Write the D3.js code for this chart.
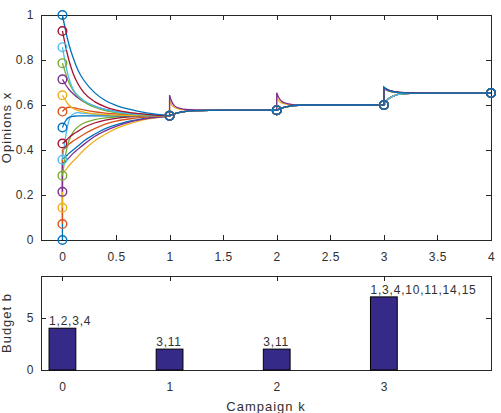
<!doctype html>
<html>
<head>
<meta charset="utf-8">
<script src="https://d3js.org/d3.v7.min.js"></script>
<style>
  body{margin:0;background:#fff;}
  svg{display:block;font-family:'Liberation Sans',Arial,Helvetica,sans-serif;}
  .axis path.domain{display:none;}
  .axis line{stroke:#262626;shape-rendering:crispEdges;}
  .axis text{fill:#303030;font-size:12px;letter-spacing:0.5px;}
  rect.box{fill:none;stroke:#262626;shape-rendering:crispEdges;}
  text.label{fill:#303030;font-size:13px;letter-spacing:1px;}
  path.traj{fill:none;stroke-width:1.3px;}
  circle.mark{fill:none;stroke-width:1.4px;}
  rect.bar{fill:#352a87;stroke:#000;stroke-width:1px;}
  text.barlabel{fill:#303030;font-size:12px;letter-spacing:0.8px;}
</style>
</head>
<body>
<svg id="chart" width="501" height="413"></svg>
<script>
var agentIds = [1,2,3,4,5,6,7,8,9,10,11,12,13,14,15];
var initialOpinion = [0, 0.071, 0.143, 0.214, 0.286, 0.357, 0.429, 0.5, 0.571, 0.643, 0.714, 0.786, 0.857, 0.929, 1];
var colors = ['#0072BD','#D95319','#EDB120','#7E2F8E','#77AC30','#4DBEEE','#A2142F'];

// first interval (campaign 0 -> 1), opinions after the push, sampled at these times
var sampleT0 = [0, 0.03, 0.06, 0.1, 0.15, 0.2, 0.3, 0.4, 0.5, 0.65, 0.8, 1];
var path0 = [
  [0.36, 0.37, 0.385, 0.40, 0.42, 0.44, 0.47, 0.495, 0.512, 0.53, 0.543, 0.552],
  [0.40, 0.41, 0.425, 0.44, 0.455, 0.47, 0.495, 0.515, 0.528, 0.54, 0.547, 0.552],
  [0.30, 0.31, 0.33, 0.35, 0.375, 0.40, 0.44, 0.47, 0.495, 0.52, 0.538, 0.551],
  [0.34, 0.35, 0.365, 0.385, 0.405, 0.425, 0.46, 0.485, 0.505, 0.527, 0.541, 0.552],
  [0.286, 0.38, 0.44, 0.48, 0.505, 0.52, 0.535, 0.543, 0.547, 0.55, 0.551, 0.552],
  [0.357, 0.46, 0.53, 0.56, 0.566, 0.563, 0.559, 0.556, 0.554, 0.553, 0.552, 0.552],
  [0.429, 0.44, 0.455, 0.47, 0.485, 0.50, 0.52, 0.533, 0.541, 0.548, 0.551, 0.552],
  [0.5, 0.53, 0.545, 0.55, 0.552, 0.552, 0.552, 0.552, 0.552, 0.552, 0.552, 0.552],
  [0.571, 0.585, 0.59, 0.588, 0.583, 0.578, 0.57, 0.564, 0.56, 0.556, 0.554, 0.552],
  [0.643, 0.62, 0.60, 0.585, 0.575, 0.568, 0.561, 0.557, 0.555, 0.553, 0.552, 0.552],
  [0.714, 0.69, 0.67, 0.65, 0.63, 0.615, 0.595, 0.58, 0.571, 0.562, 0.557, 0.552],
  [0.786, 0.74, 0.70, 0.665, 0.635, 0.615, 0.59, 0.575, 0.566, 0.559, 0.555, 0.552],
  [0.857, 0.78, 0.72, 0.67, 0.64, 0.62, 0.595, 0.58, 0.57, 0.561, 0.556, 0.552],
  [0.929, 0.86, 0.80, 0.74, 0.69, 0.655, 0.615, 0.592, 0.577, 0.565, 0.558, 0.552],
  [1, 0.93, 0.87, 0.81, 0.75, 0.71, 0.655, 0.62, 0.598, 0.578, 0.564, 0.553]
];

// later intervals: offsets from campaign time, agents that are not pushed follow "follow"
var sampleTk = [0, 0.02, 0.05, 0.1, 0.15, 0.25, 0.5, 1];
var follow1 = [0.552, 0.556, 0.562, 0.568, 0.572, 0.575, 0.577, 0.577];
var targets1 = [3, 11];
var pushed1 = [
  [0.62, 0.60, 0.588, 0.581, 0.578, 0.577, 0.577, 0.577],
  [0.644, 0.615, 0.595, 0.585, 0.58, 0.578, 0.577, 0.577]
];
var follow2 = [0.577, 0.581, 0.587, 0.593, 0.597, 0.6, 0.6, 0.6];
var targets2 = [3, 11];
var pushed2 = [
  [0.635, 0.618, 0.608, 0.603, 0.601, 0.6, 0.6, 0.6],
  [0.655, 0.632, 0.615, 0.606, 0.602, 0.6, 0.6, 0.6]
];
var follow3 = [0.6, 0.615, 0.63, 0.642, 0.648, 0.652, 0.653, 0.653];
var targets3 = [1, 3, 4, 10, 11, 14, 15];
var pushed3 = [
  [0.675, 0.668, 0.662, 0.657, 0.655, 0.653, 0.653, 0.653],
  [0.675, 0.668, 0.662, 0.657, 0.655, 0.653, 0.653, 0.653],
  [0.675, 0.668, 0.662, 0.657, 0.655, 0.653, 0.653, 0.653],
  [0.678, 0.670, 0.663, 0.658, 0.655, 0.653, 0.653, 0.653],
  [0.678, 0.672, 0.665, 0.659, 0.656, 0.654, 0.653, 0.653],
  [0.678, 0.672, 0.665, 0.659, 0.656, 0.654, 0.653, 0.653],
  [0.68, 0.672, 0.664, 0.658, 0.655, 0.653, 0.653, 0.653]
];
var laterFollow = [follow1, follow2, follow3];
var laterTargets = [targets1, targets2, targets3];
var laterPushed = [pushed1, pushed2, pushed3];

// budget per campaign
var campaigns = [0, 1, 2, 3];
var budget = [4, 2, 2, 7];
var targetLabels = ['1,2,3,4', '3,11', '3,11', '1,3,4,10,11,14,15'];

var xTicksTop = [0, 0.5, 1, 1.5, 2, 2.5, 3, 3.5, 4];
var yTicksTop = [0, 0.2, 0.4, 0.6, 0.8, 1];
var yTicksBot = [0, 5];

var svg = d3.select('#chart');
var left = 41, right = 491;
var xScale = d3.scaleLinear().domain([-0.2, 4]).range([left, right]);
var yTop = d3.scaleLinear().domain([0, 1]).range([240, 15]);
var yBot = d3.scaleLinear().domain([0, 9]).range([370, 276]);

function drawAxes(g, y, xt, yt, yTopPx, yBotPx){
  g.append('g').attr('class','axis').attr('transform','translate(0,'+yBotPx+')')
    .call(d3.axisBottom(xScale).tickValues(xt).tickSize(-5).tickPadding(12).tickFormat(d3.format('~g')));
  g.append('g').attr('class','axis').attr('transform','translate(0,'+yTopPx+')')
    .call(d3.axisTop(xScale).tickValues(xt).tickSize(-5).tickFormat(''));
  g.append('g').attr('class','axis').attr('transform','translate('+left+',0)')
    .call(d3.axisLeft(y).tickValues(yt).tickSize(-5).tickPadding(7).tickFormat(d3.format('~g')));
  g.append('g').attr('class','axis').attr('transform','translate('+right+',0)')
    .call(d3.axisRight(y).tickValues(yt).tickSize(-5).tickFormat(''));
  g.append('rect').attr('class','box')
    .attr('x',left).attr('y',yTopPx).attr('width',right-left).attr('height',yBotPx-yTopPx);
}

// ---- top plot: opinions ----
var topG = svg.append('g');
drawAxes(topG, yTop, xTicksTop, yTicksTop, 15, 240);

var trajectories = agentIds.map(function(id, i){
  var pts = [[0, initialOpinion[i]]];
  sampleT0.forEach(function(t, j){ pts.push([t, path0[i][j]]); });
  laterFollow.forEach(function(fol, c){
    var k = c + 1;
    var ti = laterTargets[c].indexOf(id);
    var vals = ti >= 0 ? laterPushed[c][ti] : fol;
    sampleTk.forEach(function(t, j){ pts.push([k + t, vals[j]]); });
  });
  // drop repeated points
  return pts.filter(function(p, j){
    return j == 0 || p[0] != pts[j-1][0] || p[1] != pts[j-1][1];
  });
});

var line = d3.line()
  .x(function(d){ return xScale(d[0]); })
  .y(function(d){ return yTop(d[1]); })
  .curve(d3.curveMonotoneX);

// smooth between campaigns, straight vertical jump at a campaign
function trajPath(pts){
  var runs = [[pts[0]]];
  for(var j = 1; j < pts.length; j++){
    if(pts[j][0] > pts[j-1][0]) runs[runs.length-1].push(pts[j]);
    else runs.push([pts[j]]);
  }
  return runs.map(function(r, n){
    var s = line(r);
    return n == 0 ? s : s.replace(/^M/, 'L');
  }).join('');
}

topG.selectAll('path.traj').data(trajectories).enter()
  .append('path').attr('class','traj')
  .attr('d', trajPath)
  .style('stroke', function(d, i){ return colors[i % 7]; });

// circles at the campaign times
var markTimes = [0, 1, 2, 3, 4];
var marks = [];
agentIds.forEach(function(id, i){
  markTimes.forEach(function(k){
    var v;
    if(k == 0) v = initialOpinion[i];
    else if(k == 4) v = follow3[follow3.length-1];
    else v = laterFollow[k-1][0];
    marks.push({k: k, v: v, i: i});
  });
});
topG.selectAll('circle.mark').data(marks).enter()
  .append('circle').attr('class','mark')
  .attr('cx', function(d){ return xScale(d.k); })
  .attr('cy', function(d){ return yTop(d.v); })
  .attr('r', 4.3)
  .style('stroke', function(d){ return colors[d.i % 7]; });

svg.append('text').attr('class','label')
  .attr('transform','translate(11,127.5) rotate(-90)')
  .attr('text-anchor','middle').text('Opinions x');

// ---- bottom plot: budget ----
var botG = svg.append('g');
drawAxes(botG, yBot, campaigns, yTicksBot, 276, 370);

var barW = 0.25;
botG.selectAll('rect.bar').data(campaigns).enter()
  .append('rect').attr('class','bar')
  .attr('x', function(d){ return xScale(d - barW/2); })
  .attr('width', xScale(barW) - xScale(0))
  .attr('y', function(d, i){ return yBot(budget[i]); })
  .attr('height', function(d, i){ return yBot(0) - yBot(budget[i]); });

botG.selectAll('text.barlabel').data(campaigns).enter()
  .append('text').attr('class','barlabel')
  .attr('x', function(d){ return xScale(d - barW/2); })
  .attr('y', function(d, i){ return yBot(budget[i]) - 3; })
  .text(function(d, i){ return targetLabels[i]; });

svg.append('text').attr('class','label')
  .attr('transform','translate(11,323) rotate(-90)')
  .attr('text-anchor','middle').text('Budget b');

svg.append('text').attr('class','label')
  .attr('x', (left+right)/2).attr('y', 411)
  .attr('text-anchor','middle').text('Campaign k');
</script>
</body>
</html>
